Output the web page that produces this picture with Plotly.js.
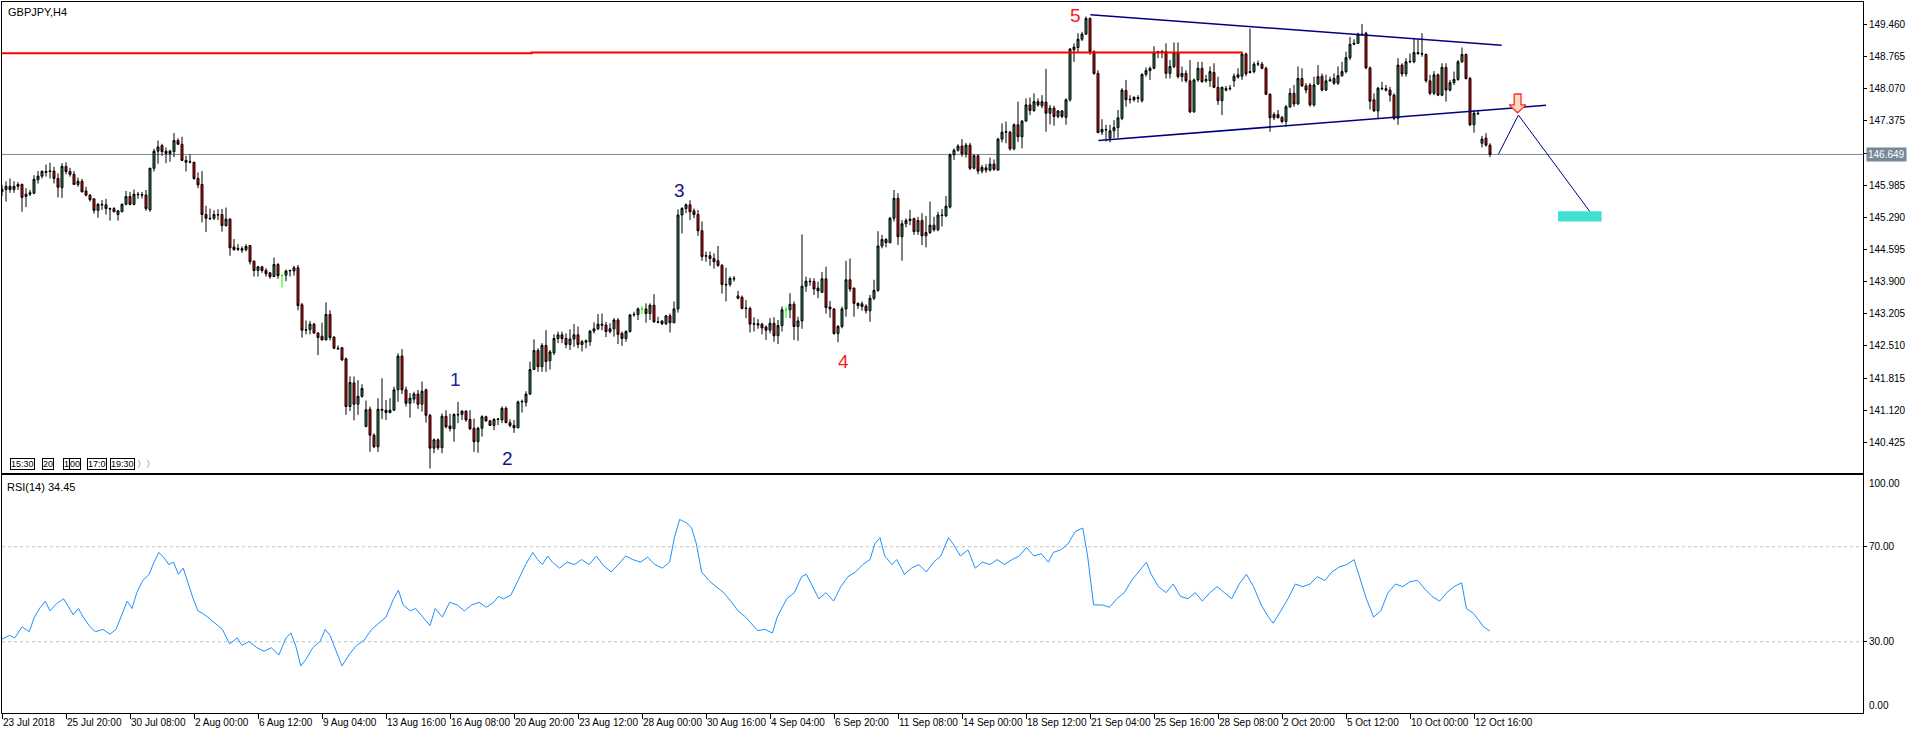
<!DOCTYPE html>
<html><head><meta charset="utf-8">
<script src="https://cdn.plot.ly/plotly-3.0.1.min.js"></script>
<style>html,body{margin:0;padding:0;background:#fff;}#chart{width:1916px;height:734px;}</style>
</head><body><div id="chart"></div>
<script>
// ---------- data: GBPJPY H4 ----------
const open = [
145.84,145.89,145.96,145.89,145.96,146.00,145.74,145.79,145.81,146.10,
146.18,146.26,146.28,146.29,146.13,145.93,146.39,146.28,146.22,146.00,
146.07,145.86,145.77,145.69,145.44,145.57,145.56,145.48,145.48,145.35,
145.41,145.57,145.74,145.57,145.79,145.78,145.77,145.45,146.35,146.72,
146.84,146.72,146.67,146.71,146.95,146.87,146.52,146.49,146.48,146.13,
146.00,145.35,145.27,145.27,145.35,145.35,145.11,145.25,144.65,144.62,
144.58,144.59,144.68,144.34,144.14,144.22,144.14,144.09,144.01,144.27,
144.03,144.04,144.13,144.13,144.20,143.40,142.85,142.86,142.98,142.79,
142.72,142.64,143.19,142.70,142.46,142.47,142.23,141.20,141.71,141.25,
141.42,140.77,141.14,140.58,140.33,141.14,141.12,141.07,141.12,141.56,
142.29,141.56,141.27,141.36,141.47,141.25,141.56,141.01,140.30,140.48,
140.31,140.99,140.78,140.72,141.03,141.03,141.10,140.92,140.73,140.44,
140.73,140.98,140.89,140.79,140.92,140.91,141.16,140.85,140.79,140.74,
141.30,141.29,141.47,142.00,142.41,142.06,142.52,142.19,142.36,142.67,
142.75,142.67,142.54,142.66,142.75,142.54,142.59,142.60,142.83,142.88,
142.98,142.96,142.82,142.88,143.07,142.78,142.67,142.82,143.18,143.19,
143.31,143.31,143.21,143.39,143.03,143.05,142.99,143.16,143.01,143.31,
145.34,145.48,145.56,145.43,145.35,145.00,144.45,144.46,144.40,144.35,
144.25,143.84,143.84,143.97,143.59,143.56,143.33,143.32,142.98,142.99,
142.98,142.92,142.85,143.00,142.73,142.95,143.29,143.29,143.41,142.93,
143.05,143.80,143.91,143.90,143.76,143.67,143.96,143.35,143.31,142.78,
142.93,143.31,143.94,143.76,143.43,143.42,143.37,143.27,143.54,143.71,
144.67,144.81,144.74,145.27,145.70,144.87,145.15,145.22,145.26,144.98,
145.22,144.89,144.96,145.12,145.02,145.34,145.32,145.51,146.64,146.74,
146.83,146.66,146.85,146.35,146.62,146.29,146.36,146.31,146.44,146.31,
146.98,147.13,147.13,146.77,147.29,147.03,147.37,147.72,147.60,147.79,
147.70,147.78,147.54,147.65,147.47,147.59,147.45,147.83,148.91,148.96,
149.14,149.25,149.59,148.87,148.40,147.13,147.19,147.00,147.16,147.23,
147.43,148.03,147.83,147.83,147.88,147.81,148.38,148.46,148.51,148.85,
148.87,148.87,148.40,148.55,148.85,148.33,148.40,148.24,147.57,148.26,
148.51,148.24,148.24,148.42,148.10,147.81,148.04,148.07,148.24,148.32,
148.34,148.82,148.42,148.44,148.60,148.60,148.51,147.95,147.44,147.51,
147.45,147.36,147.68,147.97,147.74,148.29,148.13,148.15,147.72,148.17,
148.34,148.04,148.24,148.29,148.19,148.35,148.44,148.74,149.03,149.05,
149.25,149.27,148.52,147.83,147.59,148.08,148.07,148.04,147.93,147.43,
148.58,148.39,148.65,148.65,148.85,148.83,148.81,148.24,147.97,148.37,
147.93,148.53,148.04,148.20,148.27,148.65,148.81,148.29,147.29,147.54,
146.89,147.00,146.85];
const high = [
145.99,146.07,146.13,146.07,146.05,146.02,145.92,145.88,146.20,146.29,
146.31,146.43,146.47,146.38,146.24,146.46,146.48,146.36,146.29,146.15,
146.12,145.95,145.79,145.70,145.60,145.66,145.69,145.50,145.51,145.44,
145.59,145.86,145.84,145.89,145.84,145.84,145.88,146.36,146.77,146.95,
146.88,146.80,146.75,147.11,147.00,147.03,146.62,146.65,146.49,146.26,
146.29,145.54,145.48,145.44,145.46,145.47,145.50,145.27,144.82,144.71,
144.66,144.71,144.69,144.36,144.24,144.24,144.19,144.11,144.42,144.30,
144.06,144.16,144.16,144.24,144.26,143.44,143.06,143.05,143.01,142.80,
143.01,143.45,143.28,142.72,142.52,142.49,142.26,141.85,141.85,141.77,
141.68,141.33,141.20,140.62,141.38,141.81,141.34,141.38,141.63,142.35,
142.44,141.63,141.49,141.52,141.56,141.74,141.59,141.04,140.51,140.51,
141.05,141.12,141.04,141.05,141.30,141.12,141.12,141.12,140.94,140.76,
141.01,141.00,140.91,140.95,140.95,141.20,141.20,140.92,140.91,141.33,
141.35,141.53,142.17,142.65,142.46,142.57,142.85,142.42,142.76,142.82,
142.82,142.78,142.87,142.98,142.93,142.64,142.65,142.85,143.02,143.20,
143.21,143.03,143.00,143.11,143.11,142.82,142.85,143.20,143.25,143.34,
143.37,143.43,143.43,143.63,143.14,143.06,143.18,143.21,143.47,145.46,
145.51,145.59,145.66,145.48,145.45,145.20,144.55,144.55,144.51,144.67,
144.28,144.20,144.01,144.02,143.70,143.60,143.50,143.36,143.13,143.09,
143.01,142.95,143.11,143.13,143.07,143.36,143.36,143.65,143.47,143.14,
144.92,144.01,143.98,143.97,143.90,144.11,144.22,143.48,143.32,142.96,
143.36,144.35,144.40,143.77,143.45,143.47,143.41,143.61,143.94,144.99,
144.91,144.84,145.30,145.88,145.81,145.23,145.27,145.45,145.28,145.30,
145.38,145.32,145.63,145.30,145.41,145.47,145.75,146.67,146.78,146.87,
146.98,146.90,146.90,146.65,146.65,146.42,146.44,146.58,146.54,147.01,
147.32,147.36,147.16,147.32,147.79,147.39,147.86,147.88,147.97,147.86,
147.93,148.50,147.72,147.70,147.61,147.61,147.86,148.94,149.05,149.27,
149.30,149.63,149.61,148.90,148.47,147.41,147.29,147.29,147.39,147.61,
148.08,148.26,147.93,147.91,147.93,148.40,148.53,148.55,148.99,148.89,
148.91,149.05,148.69,149.07,149.07,148.55,148.47,148.69,148.29,148.65,
148.65,148.37,148.55,148.62,148.33,148.11,148.13,148.15,148.40,148.51,
148.85,148.85,149.37,148.65,148.68,148.65,148.55,147.97,147.56,147.61,
147.48,147.72,148.08,148.15,148.55,148.51,148.19,148.19,148.33,148.58,
148.40,148.37,148.33,148.40,148.55,148.65,148.87,149.19,149.14,149.28,
149.47,149.30,148.55,147.97,148.11,148.22,148.15,148.11,147.97,148.73,
148.62,148.73,148.83,149.16,149.14,149.27,148.83,148.37,148.45,148.40,
148.62,148.62,148.26,148.44,148.69,148.96,148.83,148.33,147.61,147.61,
147.05,147.11,146.89];
const low = [
145.75,145.63,145.82,145.82,145.88,145.41,145.51,145.75,145.79,146.02,
146.13,146.17,146.13,146.02,145.72,145.71,146.22,146.17,145.99,145.95,
145.83,145.74,145.63,145.37,145.28,145.45,145.35,145.22,145.40,145.22,
145.40,145.55,145.55,145.55,145.69,145.70,145.43,145.41,146.28,146.45,
146.62,146.46,146.49,146.59,146.85,146.51,146.28,146.46,146.10,145.92,
145.18,144.97,145.23,145.23,145.23,144.98,145.09,144.46,144.57,144.56,
144.52,144.55,144.27,144.01,144.01,144.09,144.01,143.96,144.00,143.96,
143.77,143.91,144.01,144.03,143.28,142.69,142.76,142.76,142.77,142.31,
142.63,142.63,142.63,142.44,142.42,142.18,141.02,141.10,140.90,141.02,
141.39,140.75,140.22,140.30,140.22,140.93,140.91,141.05,141.11,141.30,
141.47,141.20,140.96,141.27,141.15,141.09,140.85,139.86,140.19,140.26,
140.19,140.73,140.66,140.44,140.84,140.91,140.87,140.69,140.22,140.20,
140.55,140.87,140.78,140.69,140.80,140.84,140.84,140.75,140.63,140.73,
141.07,141.20,141.45,141.99,141.95,141.95,141.95,142.00,142.31,142.57,
142.57,142.46,142.42,142.49,142.46,142.39,142.46,142.51,142.78,142.85,
142.85,142.70,142.78,142.71,142.55,142.51,142.60,142.80,143.14,143.07,
143.20,143.01,143.07,143.01,143.00,142.96,142.96,142.80,143.00,143.23,
144.94,145.38,145.23,145.27,144.89,144.35,144.33,144.24,144.18,144.22,
143.64,143.47,143.79,143.90,143.52,143.30,143.11,142.80,142.82,142.88,
142.76,142.64,142.78,142.60,142.55,142.82,143.11,143.11,142.64,142.62,
142.88,143.68,143.81,143.61,143.54,143.65,143.21,143.12,142.75,142.59,
142.89,143.14,143.68,143.14,143.31,143.27,143.21,143.03,143.50,143.68,
144.62,144.64,144.73,145.20,144.69,144.35,145.07,145.12,144.91,144.91,
144.69,144.64,144.93,144.98,144.99,145.09,145.30,145.48,146.53,146.71,
146.60,146.58,146.31,146.33,146.22,146.24,146.25,146.28,146.29,146.30,
146.91,146.89,146.73,146.74,146.92,146.78,147.36,147.50,147.57,147.68,
147.65,147.14,147.30,147.27,147.43,147.43,147.29,147.79,148.65,148.86,
149.10,149.23,148.80,148.37,147.11,147.07,146.93,146.91,147.01,147.01,
147.39,147.68,147.75,147.79,147.77,147.77,148.33,148.26,148.49,148.73,
148.73,148.29,148.29,148.51,148.29,148.22,148.20,147.54,147.55,148.22,
148.20,148.20,148.11,148.08,147.72,147.50,148.01,148.03,148.11,148.29,
148.26,148.34,148.40,148.40,148.56,148.49,147.93,147.14,147.39,147.43,
147.32,147.25,147.65,147.68,147.72,148.11,147.97,147.68,147.68,148.15,
148.01,148.02,148.22,148.15,148.15,148.33,148.40,148.69,149.01,149.04,
149.21,148.49,147.62,147.57,147.43,148.04,148.01,147.79,147.39,147.29,
148.33,148.33,148.62,148.62,148.80,148.76,148.20,147.93,147.93,147.91,
147.91,147.79,148.01,148.15,148.24,148.63,148.27,147.26,147.12,147.50,
146.80,146.82,146.59];
const close = [
145.90,145.96,145.89,145.96,146.00,145.72,145.79,145.82,146.11,146.18,
146.28,146.28,146.29,146.13,145.94,146.39,146.28,146.22,146.00,146.07,
145.84,145.77,145.67,145.44,145.57,145.56,145.48,145.47,145.41,145.43,
145.57,145.74,145.57,145.79,145.78,145.77,145.48,146.35,146.72,146.81,
146.71,146.67,146.72,146.95,146.87,146.52,146.48,146.48,146.13,145.99,
145.35,145.27,145.26,145.35,145.34,145.11,145.25,144.63,144.59,144.60,
144.61,144.66,144.33,144.14,144.22,144.14,144.07,144.01,144.27,144.03,
144.03,144.13,144.14,144.20,143.38,142.85,142.86,142.98,142.79,142.69,
142.64,143.19,142.69,142.46,142.45,142.21,141.20,141.72,141.25,141.42,
141.59,141.13,140.58,140.33,141.14,141.12,141.07,141.12,141.56,142.29,
141.56,141.27,141.38,141.47,141.25,141.53,141.01,140.30,140.48,140.31,
140.99,140.76,140.72,141.03,141.02,141.10,140.91,140.72,140.44,140.73,
140.98,140.89,140.79,140.92,140.93,141.16,140.85,140.79,140.74,141.30,
141.31,141.47,142.00,142.41,142.06,142.52,142.17,142.38,142.67,142.75,
142.67,142.54,142.66,142.75,142.54,142.60,142.62,142.83,142.88,142.98,
142.96,142.82,142.88,143.07,142.76,142.67,142.82,143.18,143.19,143.31,
143.31,143.21,143.39,143.03,143.02,142.99,143.16,143.01,143.31,145.34,
145.48,145.56,145.41,145.35,145.00,144.44,144.46,144.40,144.33,144.25,
143.84,143.83,143.97,143.96,143.54,143.32,143.32,142.98,142.99,142.96,
142.90,142.85,143.00,142.73,142.95,143.29,143.29,143.41,142.93,143.05,
143.80,143.91,143.90,143.74,143.70,143.96,143.34,143.31,142.78,142.93,
143.31,143.94,143.74,143.43,143.38,143.36,143.27,143.54,143.71,144.67,
144.81,144.74,145.27,145.70,144.87,145.15,145.22,145.25,144.98,145.22,
144.89,144.96,145.12,145.02,145.34,145.33,145.53,146.64,146.74,146.83,
146.66,146.85,146.35,146.62,146.29,146.37,146.31,146.44,146.33,146.98,
147.13,147.14,146.77,147.29,147.03,147.37,147.72,147.60,147.79,147.72,
147.79,147.54,147.65,147.47,147.59,147.47,147.83,148.93,148.97,149.14,
149.25,149.59,148.87,148.40,147.12,147.19,147.18,147.16,147.23,147.44,
148.04,147.83,147.84,147.88,147.86,148.38,148.46,148.51,148.85,148.87,
148.86,148.40,148.55,148.85,148.33,148.40,148.24,147.57,148.26,148.51,
148.22,148.27,148.44,148.10,147.81,148.10,148.07,148.08,148.34,148.37,
148.82,148.39,148.44,148.60,148.61,148.51,147.95,147.44,147.51,147.44,
147.36,147.68,147.97,147.74,148.29,148.13,148.04,147.72,148.15,148.33,
148.04,148.24,148.26,148.19,148.35,148.44,148.74,149.03,149.05,149.25,
149.24,148.52,147.80,147.59,148.08,148.07,148.04,147.93,147.43,148.58,
148.39,148.65,148.66,148.85,148.83,148.82,148.24,147.97,148.37,147.93,
148.53,148.04,148.20,148.27,148.65,148.81,148.29,147.29,147.54,147.53,
146.98,146.85,146.649];

const timeLabels = ["23 Jul 2018","25 Jul 20:00","30 Jul 08:00","2 Aug 00:00","6 Aug 12:00","9 Aug 04:00",
 "13 Aug 16:00","16 Aug 08:00","20 Aug 20:00","23 Aug 12:00","28 Aug 00:00","30 Aug 16:00","4 Sep 04:00",
 "6 Sep 20:00","11 Sep 08:00","14 Sep 00:00","18 Sep 12:00","21 Sep 04:00","25 Sep 16:00","28 Sep 08:00",
 "2 Oct 20:00","5 Oct 12:00","10 Oct 00:00","12 Oct 16:00"];
const barsPerLabel = 16;

const priceTicks = [140.425,141.120,141.815,142.510,143.205,143.900,144.595,145.290,145.985,146.680,147.375,148.070,148.765,149.460];
const lastPrice = 146.649;
const rsiLast = 34.45;

// RSI(14) (bar index, value)
const rsiBar = [0,1.9,3.2,5.0,6.8,8.1,9.6,10.8,12.0,13.6,15.4,16.6,17.8,19.1,20.3,21.8,23.3,25.2,27.0,28.5,
 30.1,31.3,32.5,33.7,35.2,36.8,38.0,39.2,40.4,41.7,42.9,44.1,45.3,46.5,47.8,49.0,50.2,51.4,53.3,55.1,
 56.9,58.8,60.0,61.8,63.7,65.5,67.3,69.2,71.0,72.2,73.4,74.7,75.9,77.7,79.5,80.8,82.0,83.8,85.0,86.9,
 88.7,90.5,92.4,94.2,96.0,97.9,99.1,100.3,102.1,103.4,105.2,107.0,108.3,110.1,111.9,113.8,115.6,117.4,119.3,121.1,
 122.9,124.1,125.4,127.2,129.0,130.9,132.7,133.9,135.1,136.4,137.6,139.4,141.3,143.1,144.9,146.8,148.6,150.4,152.3,154.1,
 155.9,157.7,159.6,161.4,163.2,165.1,166.9,168.1,169.4,171.2,172.4,173.6,174.9,176.7,178.5,180.4,182.2,184.0,185.9,187.7,
 188.9,190.7,192.6,193.8,195.0,196.2,198.1,199.9,201.1,202.4,204.2,206.0,207.9,209.7,211.5,213.4,215.2,217.0,218.2,219.5,
 220.7,222.5,223.7,225.6,227.4,229.2,231.1,232.9,234.7,236.6,237.8,239.6,241.5,243.3,245.1,247.0,248.8,250.6,252.5,254.3,
 256.1,258.0,259.8,261.6,262.8,264.7,266.5,268.3,270.2,271.4,272.9,275.1,276.9,278.7,280.6,282.4,284.2,286.1,287.3,289.1,
 291.0,292.8,294.6,296.5,298.3,300.1,302.0,303.8,305.6,307.4,309.3,311.1,312.9,314.8,316.6,317.8,319.7,321.5,323.3,325.2,
 327.0,328.8,330.7,332.5,334.3,336.2,338.0,339.2,341.1,342.9,344.7,346.5,348.4,350.2,352.0,353.9,355.7,357.5,359.4,361.2,
 363.0,364.9,366.1,367.9,369.2,370.4,372];
const rsiValue = [31.1,32.7,31.6,36.3,34.2,40.4,44.5,47.1,43.0,46.0,48.1,44.5,41.4,44.0,40.4,36.8,34.2,35.2,33.2,35.2,
 41.9,47.1,44.0,50.7,55.8,58.4,63.5,67.6,65.6,62.5,63.5,58.4,61.0,54.3,48.1,43.0,41.9,40.4,37.8,35.2,
 29.1,31.6,28.5,30.1,27.5,26.0,27.5,24.4,31.6,33.7,28.5,19.8,22.4,27.5,30.1,35.2,32.7,24.9,19.8,24.9,
 28.5,30.6,35.2,37.8,40.4,48.1,51.7,45.5,43.0,44.0,40.4,36.8,44.0,40.4,46.6,45.5,43.0,45.5,46.6,44.5,
 46.6,49.1,48.1,49.6,55.8,62.5,67.6,64.6,62.5,66.1,63.5,61.0,63.5,62.5,64.6,62.5,66.1,62.0,59.4,62.5,
 66.1,64.6,63.5,65.6,62.5,61.0,63.5,73.8,81.5,80.0,77.9,71.2,59.4,55.8,53.2,50.7,47.1,43.0,40.4,36.8,
 34.7,35.2,33.7,40.4,44.0,48.1,50.7,57.4,58.4,54.3,48.1,50.7,47.1,53.2,57.4,59.4,62.5,64.6,71.2,73.8,
 66.1,62.5,64.6,58.4,61.0,62.5,59.4,63.5,66.1,73.8,71.2,66.1,68.7,61.0,63.5,62.5,64.6,62.5,64.6,66.1,
 69.7,66.1,67.1,63.5,67.6,68.7,71.2,76.4,77.9,66.1,45.5,45.5,44.5,48.1,50.7,55.8,59.4,63.5,58.4,53.2,
 50.7,54.3,49.1,48.1,50.7,47.1,50.7,53.2,50.7,48.1,54.3,58.4,53.2,45.5,40.4,37.8,43.0,48.1,54.3,53.2,
 54.3,57.4,55.8,59.4,61.5,62.5,64.6,58.4,48.1,40.4,43.0,50.7,54.3,53.2,55.3,55.8,52.2,49.1,47.1,50.7,
 53.2,54.8,44.0,41.9,38.8,36.3,34.45];
const rsiLevels = [70, 30];

// chart objects (bar index, price)
const resistBar = [-1, 132.4, 310.2];
const resistPrice = [148.835, 148.855, 148.855];
const triUpperBar = [272.1, 374.9];
const triUpperPrice = [149.67, 149.008];
const triLowerBar = [274.1, 386];
const triLowerPrice = [146.95, 147.71];
const projBar = [374.1, 379.1, 397];
const projPrice = [146.652, 147.50, 145.41];
const targetBar = [389, 399.9];
const targetPrice = [145.20, 145.42];
const arrowBar = 378.9, arrowPrice = 147.55;
const waveText = ["1","2","3","4","5"];
const waveBar = [113.3, 126.3, 169.3, 210.3, 268.3];
const wavePrice = [141.79, 140.08, 145.88, 142.18, 149.65];
const waveColor = ["#1f1f9a","#12128a","#12128a","#ff1a1a","#ff1a1a"];
const boxTexts = ["15:30","20","1","00","17:0","19:30"];

// ---------- build ----------
const idx = close.map((_, i) => i);
const isLime = idx.map(i => open[i] === close[i]);
const pick = (arr, want) => arr.filter((_, i) => isLime[i] === want);

const candles = {
  type: 'candlestick', x: pick(idx,false), open: pick(open,false), high: pick(high,false),
  low: pick(low,false), close: pick(close,false), xaxis: 'x', yaxis: 'y',
  increasing: {line: {color: '#000000', width: 1}, fillcolor: '#2e8b57'},
  decreasing: {line: {color: '#000000', width: 1}, fillcolor: '#ff0000'},
  whiskerwidth: 0, hoverinfo: 'skip'
};
const dojis = {
  type: 'candlestick', x: pick(idx,true), open: pick(open,true), high: pick(high,true),
  low: pick(low,true), close: pick(close,true), xaxis: 'x', yaxis: 'y',
  increasing: {line: {color: '#00ff00', width: 1}, fillcolor: '#00ff00'},
  decreasing: {line: {color: '#00ff00', width: 1}, fillcolor: '#00ff00'},
  whiskerwidth: 0, hoverinfo: 'skip'
};
const line = (x, y, color, width) => ({type: 'scatter', mode: 'lines', x, y, xaxis: 'x', yaxis: 'y',
  line: {color, width}, hoverinfo: 'skip', cliponaxis: true});

const resist = line(resistBar, resistPrice, '#ff0000', 2); resist.line.shape = 'hv';
const triU = line(triUpperBar, triUpperPrice, '#000080', 1.5);
const triL = line(triLowerBar, triLowerPrice, '#000080', 1.5);
const proj = line(projBar, projPrice, '#000080', 1);

// hollow down arrow object anchored at its tip
const sw = 0.85, hw = 2.1, shaftTop = arrowPrice + 0.405, headBase = arrowPrice + 0.17;
const arrow = {type:'scatter', mode:'lines', xaxis:'x', yaxis:'y', hoverinfo:'skip',
  x: [arrowBar-sw, arrowBar+sw, arrowBar+sw, arrowBar+hw, arrowBar, arrowBar-hw, arrowBar-sw, arrowBar-sw],
  y: [shaftTop, shaftTop, headBase, headBase, arrowPrice, headBase, headBase, shaftTop],
  fill: 'toself', fillcolor: '#ffd9c0', line: {color: '#ff2a2a', width: 1.3}};

const rsi = {type: 'scatter', mode: 'lines', x: rsiBar, y: rsiValue, xaxis: 'x2', yaxis: 'y2',
  line: {color: '#1e90ff', width: 1}, hoverinfo: 'skip'};

const xRange = [0, 465.25];
const mainRange = [139.752, 149.944];
const baseFont = {family: 'Liberation Sans, Arial, sans-serif', size: 10, color: '#000'};

const shapes = [
  {type:'line', xref:'paper', x0:0, x1:1, yref:'y', y0:lastPrice, y1:lastPrice, line:{color:'#778899', width:1}, layer:'below'},
  {type:'rect', xref:'x', yref:'y', x0:targetBar[0], x1:targetBar[1], y0:targetPrice[0], y1:targetPrice[1], fillcolor:'#40e0d0', line:{width:0}},
];
rsiLevels.forEach(v => shapes.push({type:'line', xref:'paper', x0:0, x1:1, yref:'y2', y0:v, y1:v,
  line:{color:'#c0c0c0', width:1, dash:'3px,3px'}, layer:'below'}));

const annotations = [
  {xref:'paper', yref:'paper', x:0, y:1, xanchor:'left', yanchor:'top', xshift:4, yshift:-2, showarrow:false,
   text:'GBPJPY,H4', font:{family:baseFont.family, size:11, color:'#000'}},
  {xref:'paper', yref:'y2 domain', x:0, y:1, xanchor:'left', yanchor:'top', xshift:3, yshift:-4, showarrow:false,
   text:'RSI(14) ' + rsiLast.toFixed(2), font:{family:baseFont.family, size:11, color:'#000'}},
  {xref:'paper', yref:'y', x:1, y:lastPrice, xanchor:'left', yanchor:'middle', xshift:3, showarrow:false,
   text:lastPrice.toFixed(3), bgcolor:'#778899', borderpad:1, font:{family:baseFont.family, size:10, color:'#ffffff'}},
  {xref:'paper', yref:'y2 domain', x:1, y:1, xanchor:'left', yanchor:'top', xshift:4, yshift:-1, showarrow:false,
   text:'100.00', font:baseFont},
  {xref:'paper', yref:'y2 domain', x:1, y:0, xanchor:'left', yanchor:'bottom', xshift:4, yshift:0, showarrow:false,
   text:'0.00', font:baseFont},
];
waveText.forEach((t, k) => annotations.push({xref:'x', yref:'y', x:waveBar[k], y:wavePrice[k], text:t, showarrow:false,
  font:{family:'Liberation Sans, Arial, sans-serif', size:19, color:waveColor[k]}}));
const boxLeft = [10, 42, 63, 69, 87, 110];
boxTexts.forEach((t, k) => annotations.push({xref:'paper', yref:'y domain', x:(boxLeft[k]-2)/1861, y:0, xanchor:'left', yanchor:'bottom',
  yshift:3, showarrow:false, text:t, bordercolor:'#000', borderwidth:1, borderpad:0, bgcolor:'#fff',
  font:{family:baseFont.family, size:9, color:'#000'}}));
annotations.push({xref:'paper', yref:'y domain', x:(135-2)/1861, y:0, xanchor:'left', yanchor:'bottom', yshift:2,
  showarrow:false, text:'〉〉', font:{family:'DejaVu Sans, sans-serif', size:9, color:'#000'}});

const axisCommon = {showgrid:false, zeroline:false, showline:true, mirror:true, linecolor:'#000', linewidth:1, fixedrange:true};

const layout = {
  width: 1916, height: 734, margin: {l: 2, r: 53, t: 2, b: 21, pad: 0},
  paper_bgcolor: '#ffffff', plot_bgcolor: '#ffffff', showlegend: false, font: baseFont,
  dragmode: false, hovermode: false,
  xaxis: Object.assign({}, axisCommon, {domain:[0,1], anchor:'y', range:xRange, showticklabels:false, ticks:'',
    rangeslider:{visible:false}}),
  yaxis: Object.assign({}, axisCommon, {domain:[0.33685,1], anchor:'x', side:'right', range:mainRange,
    tickvals: priceTicks, ticktext: priceTicks.map(v => v.toFixed(3)), ticks:'outside', ticklen:3, tickcolor:'#000',
    tickfont: baseFont}),
  xaxis2: Object.assign({}, axisCommon, {domain:[0,1], anchor:'y2', range:xRange,
    tickvals: timeLabels.map((_, k) => k * barsPerLabel), ticktext: timeLabels, ticks:'outside', ticklen:5, tickcolor:'#000',
    ticklabelposition:'outside right', tickfont: baseFont, tickangle:0}),
  yaxis2: Object.assign({}, axisCommon, {domain:[0,0.33404], anchor:'x2', side:'right', range:[0,100],
    tickvals: rsiLevels, ticktext: rsiLevels.map(v => v.toFixed(2)), ticks:'outside', ticklen:3, tickcolor:'#000',
    tickfont: baseFont}),
  boxgap: 0.3,
  shapes, annotations
};

Plotly.newPlot('chart', [candles, dojis, resist, triU, triL, proj, arrow, rsi], layout, {staticPlot: true, displayModeBar: false});
</script></body></html>
